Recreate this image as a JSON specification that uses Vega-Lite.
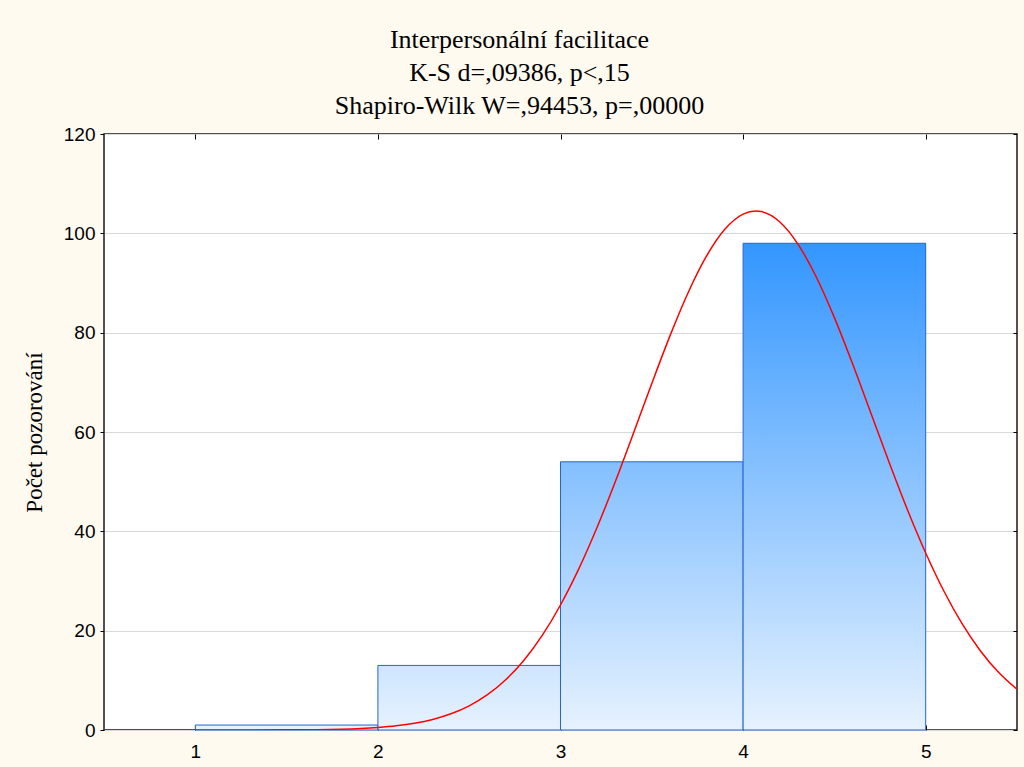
{
  "$schema": "https://vega.github.io/schema/vega-lite/v6.json",
  "width": 913,
  "height": 596,
  "autosize": {"type": "none"},
  "padding": {"left": 104, "top": 134, "right": 7, "bottom": 37},
  "background": "#FEFAF0",
  "title": {
    "text": ["Interpersonální facilitace", "K-S d=,09386, p<,15", "Shapiro-Wilk W=,94453, p=,00000"],
    "font": "Liberation Serif",
    "fontSize": 26,
    "fontWeight": "normal",
    "color": "#000000",
    "lineHeight": 33,
    "anchor": "middle",
    "dx": -41,
    "offset": 6
  },
  "config": {
    "view": {"fill": "#FFFFFF", "stroke": "#1A1A1A", "strokeWidth": 1.5},
    "axis": {
      "labelFont": "Liberation Sans",
      "labelFontSize": 19,
      "labelColor": "#000000",
      "titleFont": "Liberation Serif",
      "titleFontSize": 23,
      "titleFontWeight": "normal",
      "titleColor": "#000000",
      "tickColor": "#000000",
      "domain": false
    }
  },
  "resolve": {"axis": {"x": "independent", "y": "independent"}},
  "datasets": {
    "bins": [
      {"x0": 1, "x1": 2, "count": 1},
      {"x0": 2, "x1": 3, "count": 13},
      {"x0": 3, "x1": 4, "count": 54},
      {"x0": 4, "x1": 5, "count": 98}
    ],
    "curve": [
      {"x": 0.5, "y": 0},
      {"x": 1.0, "y": 0.001},
      {"x": 1.2, "y": 0.004},
      {"x": 1.5, "y": 0.03},
      {"x": 1.8, "y": 0.17},
      {"x": 2.0, "y": 0.51},
      {"x": 2.1, "y": 0.84},
      {"x": 2.2, "y": 1.35},
      {"x": 2.3, "y": 2.12},
      {"x": 2.4, "y": 3.26},
      {"x": 2.5, "y": 4.87},
      {"x": 2.6, "y": 7.11},
      {"x": 2.7, "y": 10.12},
      {"x": 2.8, "y": 14.05},
      {"x": 2.9, "y": 19.04},
      {"x": 3.0, "y": 25.17},
      {"x": 3.1, "y": 32.43},
      {"x": 3.2, "y": 40.77},
      {"x": 3.3, "y": 49.98},
      {"x": 3.4, "y": 59.79},
      {"x": 3.5, "y": 69.77},
      {"x": 3.6, "y": 79.4},
      {"x": 3.7, "y": 88.14},
      {"x": 3.8, "y": 95.44},
      {"x": 3.9, "y": 100.81},
      {"x": 4.0, "y": 103.87},
      {"x": 4.07, "y": 104.5},
      {"x": 4.1, "y": 104.38},
      {"x": 4.2, "y": 102.33},
      {"x": 4.3, "y": 97.84},
      {"x": 4.4, "y": 91.26},
      {"x": 4.5, "y": 83.03},
      {"x": 4.6, "y": 73.68},
      {"x": 4.7, "y": 63.79},
      {"x": 4.8, "y": 53.86},
      {"x": 4.9, "y": 44.36},
      {"x": 5.0, "y": 35.64},
      {"x": 5.1, "y": 27.93},
      {"x": 5.2, "y": 21.35},
      {"x": 5.3, "y": 15.92},
      {"x": 5.4, "y": 11.58},
      {"x": 5.5, "y": 8.21}
    ]
  },
  "layer": [
    {
      "data": {"name": "bins"},
      "transform": [{"filter": "datum.x0 == 1"}],
      "mark": {
        "type": "bar",
        "stroke": "#2563D6",
        "strokeWidth": 1,
        "fill": {"gradient": "linear", "x1": 0, "y1": -97, "x2": 0, "y2": 1,
          "stops": [{"offset": 0, "color": "#3396FF"}, {"offset": 1, "color": "#E6F2FE"}]}
      },
      "encoding": {
        "x": {"field": "x0", "type": "quantitative",
          "scale": {"domain": [0.5, 5.5], "nice": false, "zero": false},
          "axis": {"orient": "bottom", "values": [1, 2, 3, 4, 5], "title": null, "grid": false, "tickSize": -5, "labelPadding": 17}},
        "x2": {"field": "x1"},
        "y": {"field": "count", "type": "quantitative",
          "scale": {"domain": [0, 120], "nice": false},
          "axis": {"orient": "left", "values": [0, 20, 40, 60, 80, 100, 120], "title": "Počet pozorování", "grid": true, "gridColor": "#D9D9D9", "gridWidth": 1, "tickSize": 4, "labelPadding": 5, "titlePadding": 17}},
        "y2": {"datum": 0}
      }
    },
    {
      "data": {"name": "bins"},
      "transform": [{"filter": "datum.x0 == 2"}],
      "mark": {
        "type": "bar",
        "stroke": "#2563D6",
        "strokeWidth": 1,
        "fill": {"gradient": "linear", "x1": 0, "y1": -6.5385, "x2": 0, "y2": 1,
          "stops": [{"offset": 0, "color": "#3396FF"}, {"offset": 1, "color": "#E6F2FE"}]}
      },
      "encoding": {
        "x": {"field": "x0", "type": "quantitative", "axis": null},
        "x2": {"field": "x1"},
        "y": {"field": "count", "type": "quantitative", "axis": null},
        "y2": {"datum": 0}
      }
    },
    {
      "data": {"name": "bins"},
      "transform": [{"filter": "datum.x0 == 3"}],
      "mark": {
        "type": "bar",
        "stroke": "#2563D6",
        "strokeWidth": 1,
        "fill": {"gradient": "linear", "x1": 0, "y1": -0.8148, "x2": 0, "y2": 1,
          "stops": [{"offset": 0, "color": "#3396FF"}, {"offset": 1, "color": "#E6F2FE"}]}
      },
      "encoding": {
        "x": {"field": "x0", "type": "quantitative", "axis": null},
        "x2": {"field": "x1"},
        "y": {"field": "count", "type": "quantitative", "axis": null},
        "y2": {"datum": 0}
      }
    },
    {
      "data": {"name": "bins"},
      "transform": [{"filter": "datum.x0 == 4"}],
      "mark": {
        "type": "bar",
        "stroke": "#2563D6",
        "strokeWidth": 1,
        "fill": {"gradient": "linear", "x1": 0, "y1": 0, "x2": 0, "y2": 1,
          "stops": [{"offset": 0, "color": "#3396FF"}, {"offset": 1, "color": "#E6F2FE"}]}
      },
      "encoding": {
        "x": {"field": "x0", "type": "quantitative", "axis": null},
        "x2": {"field": "x1"},
        "y": {"field": "count", "type": "quantitative", "axis": null},
        "y2": {"datum": 0}
      }
    },
    {
      "data": {"name": "curve"},
      "mark": {"type": "line", "color": "#FF0000", "strokeWidth": 1.5, "interpolate": "monotone", "clip": true},
      "encoding": {
        "x": {"field": "x", "type": "quantitative",
          "axis": {"orient": "top", "values": [1, 2, 3, 4, 5], "labels": false, "title": null, "grid": false, "tickSize": -5}},
        "y": {"field": "y", "type": "quantitative",
          "axis": {"orient": "right", "values": [0, 20, 40, 60, 80, 100, 120], "labels": false, "title": null, "grid": false, "tickSize": -4}}
      }
    }
  ]
}
